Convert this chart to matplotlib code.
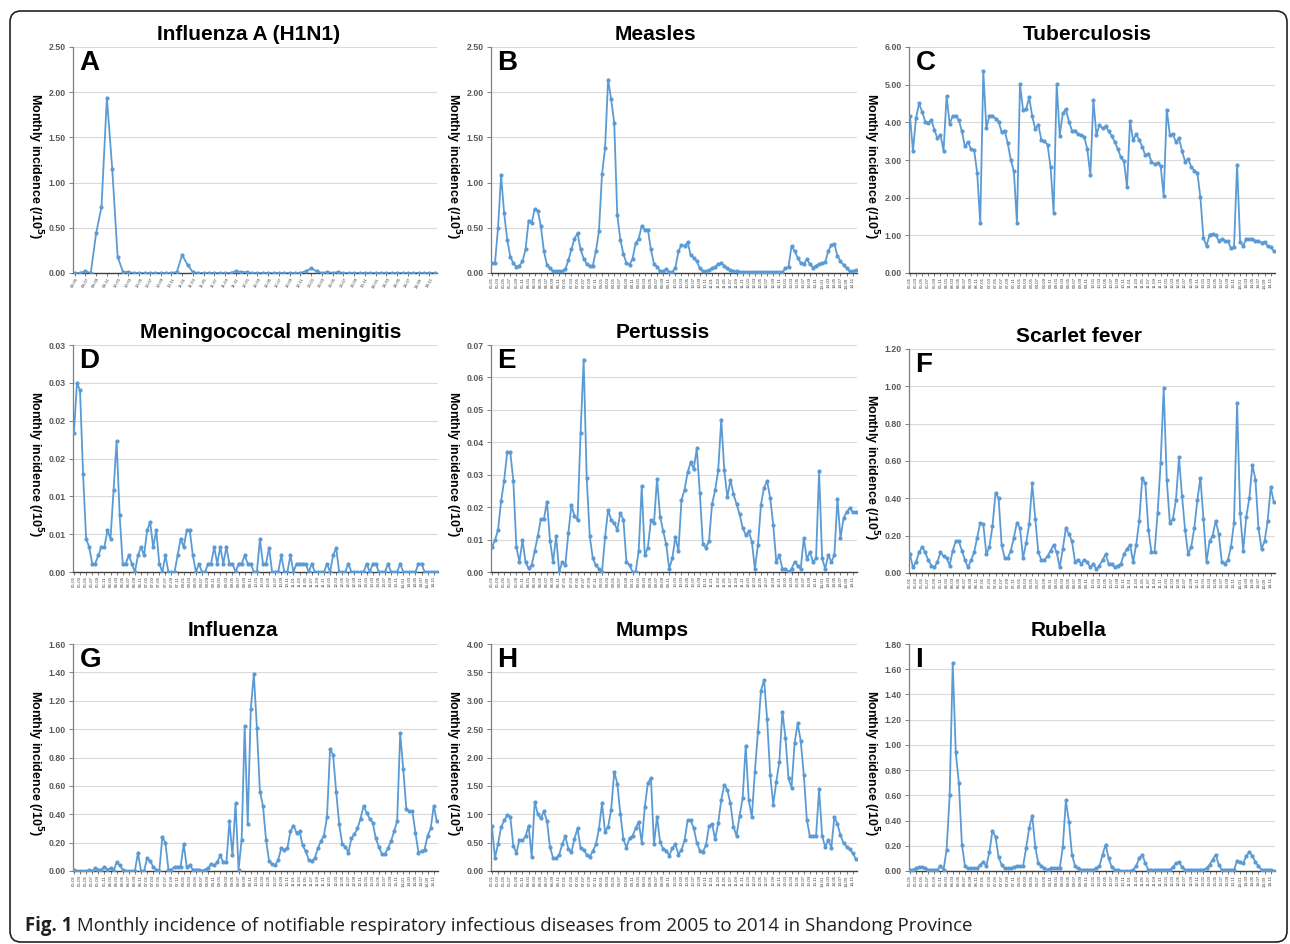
import matplotlib
matplotlib.use("Agg")
import matplotlib.pyplot as plt
from matplotlib.patches import FancyBboxPatch

# ---------------- data ----------------
months_h1n1 = [f"{y:02d}-{m:02d}" for y in range(9, 15) for m in range(1, 13)][4:]   # 09-05 .. 14-12
months_all = [f"{y:02d}-{m:02d}" for y in range(5, 15) for m in range(1, 13)]        # 05-01 .. 14-12

h1n1 = [0.00, 0.00, 0.02, 0.00, 0.44, 0.73, 1.94, 1.15, 0.18, 0.01, 0.01, 0.00,
        0.00, 0.00, 0.00, 0.00, 0.00, 0.00, 0.00, 0.01, 0.20, 0.09, 0.01, 0.00,
        0.00, 0.00, 0.00, 0.00, 0.00, 0.00, 0.02, 0.01, 0.01, 0.00, 0.00, 0.00,
        0.00, 0.00, 0.00, 0.00, 0.00, 0.00, 0.00, 0.02, 0.05, 0.02, 0.00, 0.01,
        0.00, 0.01, 0.00, 0.00, 0.00, 0.00, 0.00, 0.00, 0.00, 0.00, 0.00, 0.00,
        0.00, 0.00, 0.00, 0.00, 0.00, 0.00, 0.00, 0.00]

measles = [0.11, 0.11, 0.50, 1.08, 0.66, 0.37, 0.18, 0.11, 0.07, 0.08, 0.13, 0.26,
           0.58, 0.55, 0.71, 0.69, 0.52, 0.24, 0.09, 0.05, 0.02, 0.02, 0.02, 0.02,
           0.04, 0.14, 0.26, 0.38, 0.44, 0.26, 0.16, 0.10, 0.08, 0.08, 0.24, 0.46,
           1.09, 1.38, 2.14, 1.92, 1.66, 0.64, 0.37, 0.21, 0.11, 0.09, 0.16, 0.33,
           0.38, 0.52, 0.48, 0.48, 0.26, 0.10, 0.07, 0.02, 0.02, 0.04, 0.01, 0.01,
           0.06, 0.24, 0.31, 0.30, 0.34, 0.20, 0.17, 0.13, 0.05, 0.02, 0.02, 0.03,
           0.05, 0.07, 0.10, 0.11, 0.08, 0.05, 0.03, 0.02, 0.02, 0.01, 0.01, 0.01,
           0.01, 0.01, 0.01, 0.01, 0.01, 0.01, 0.01, 0.01, 0.01, 0.01, 0.01, 0.01,
           0.05, 0.07, 0.30, 0.24, 0.17, 0.11, 0.10, 0.15, 0.10, 0.06, 0.08, 0.10,
           0.11, 0.12, 0.24, 0.31, 0.32, 0.19, 0.13, 0.09, 0.05, 0.02, 0.02, 0.03]

tuberculosis = [4.18, 3.24, 4.12, 4.50, 4.28, 4.02, 3.99, 4.06, 3.80, 3.58, 3.66, 3.25,
                4.70, 3.96, 4.17, 4.16, 4.06, 3.76, 3.36, 3.48, 3.28, 3.26, 2.66, 1.32,
                5.35, 3.85, 4.18, 4.18, 4.10, 4.02, 3.74, 3.78, 3.44, 3.00, 2.70, 1.34,
                5.01, 4.33, 4.35, 4.66, 4.16, 3.82, 3.94, 3.52, 3.50, 3.41, 2.81, 1.60,
                5.02, 3.65, 4.24, 4.35, 4.02, 3.78, 3.78, 3.68, 3.66, 3.62, 3.29, 2.60,
                4.59, 3.66, 3.93, 3.84, 3.90, 3.76, 3.64, 3.48, 3.29, 3.07, 2.97, 2.28,
                4.04, 3.52, 3.68, 3.53, 3.35, 3.12, 3.17, 2.96, 2.89, 2.93, 2.84, 2.05,
                4.34, 3.67, 3.68, 3.48, 3.58, 3.24, 2.96, 3.03, 2.82, 2.72, 2.66, 2.01,
                0.92, 0.72, 1.02, 1.04, 1.00, 0.86, 0.90, 0.86, 0.84, 0.66, 0.69, 2.88,
                0.82, 0.72, 0.90, 0.90, 0.89, 0.86, 0.85, 0.80, 0.83, 0.71, 0.70, 0.58]

meningitis = [0.0184, 0.0250, 0.0240, 0.0130, 0.0044, 0.0033, 0.0011, 0.0011, 0.0022, 0.0033, 0.0033, 0.0055,
              0.0044, 0.0108, 0.0173, 0.0075, 0.0011, 0.0011, 0.0022, 0.0011, 0.0000, 0.0022, 0.0033, 0.0022,
              0.0055, 0.0066, 0.0033, 0.0055, 0.0011, 0.0000, 0.0022, 0.0000, 0.0000, 0.0000, 0.0022, 0.0044,
              0.0033, 0.0055, 0.0055, 0.0022, 0.0000, 0.0011, 0.0000, 0.0000, 0.0011, 0.0011, 0.0033, 0.0011,
              0.0033, 0.0011, 0.0033, 0.0011, 0.0011, 0.0000, 0.0011, 0.0011, 0.0022, 0.0011, 0.0011, 0.0000,
              0.0000, 0.0043, 0.0011, 0.0011, 0.0032, 0.0000, 0.0000, 0.0000, 0.0022, 0.0000, 0.0000, 0.0022,
              0.0000, 0.0011, 0.0011, 0.0011, 0.0011, 0.0000, 0.0011, 0.0000, 0.0000, 0.0000, 0.0000, 0.0011,
              0.0000, 0.0022, 0.0032, 0.0000, 0.0000, 0.0000, 0.0011, 0.0000, 0.0000, 0.0000, 0.0000, 0.0000,
              0.0011, 0.0000, 0.0011, 0.0011, 0.0000, 0.0000, 0.0000, 0.0011, 0.0000, 0.0000, 0.0000, 0.0011,
              0.0000, 0.0000, 0.0000, 0.0000, 0.0000, 0.0011, 0.0011, 0.0000, 0.0000, 0.0000, 0.0000, 0.0000]

pertussis = [0.0077, 0.0098, 0.0130, 0.0218, 0.0282, 0.0370, 0.0370, 0.0282, 0.0077, 0.0031, 0.0098, 0.0031,
             0.0011, 0.0021, 0.0065, 0.0110, 0.0163, 0.0163, 0.0217, 0.0097, 0.0031, 0.0110, 0.0000, 0.0031,
             0.0021, 0.0120, 0.0206, 0.0172, 0.0161, 0.0430, 0.0655, 0.0290, 0.0110, 0.0042, 0.0021, 0.0010,
             0.0000, 0.0107, 0.0192, 0.0161, 0.0150, 0.0130, 0.0182, 0.0161, 0.0031, 0.0021, 0.0000, 0.0000,
             0.0065, 0.0265, 0.0052, 0.0075, 0.0160, 0.0150, 0.0288, 0.0170, 0.0127, 0.0085, 0.0010, 0.0043,
             0.0107, 0.0065, 0.0222, 0.0254, 0.0307, 0.0338, 0.0318, 0.0381, 0.0243, 0.0085, 0.0075, 0.0095,
             0.0210, 0.0252, 0.0313, 0.0470, 0.0313, 0.0230, 0.0284, 0.0240, 0.0210, 0.0179, 0.0136, 0.0115,
             0.0125, 0.0094, 0.0010, 0.0083, 0.0208, 0.0260, 0.0280, 0.0229, 0.0146, 0.0031, 0.0052, 0.0010,
             0.0010, 0.0000, 0.0010, 0.0031, 0.0020, 0.0010, 0.0105, 0.0040, 0.0062, 0.0031, 0.0042, 0.0310,
             0.0042, 0.0010, 0.0052, 0.0031, 0.0052, 0.0226, 0.0104, 0.0166, 0.0185, 0.0197, 0.0185, 0.0185]

scarlet = [0.10, 0.03, 0.06, 0.11, 0.14, 0.11, 0.07, 0.04, 0.03, 0.06, 0.11, 0.09,
           0.08, 0.04, 0.12, 0.17, 0.17, 0.12, 0.07, 0.03, 0.07, 0.11, 0.19, 0.27,
           0.26, 0.10, 0.14, 0.25, 0.43, 0.40, 0.15, 0.08, 0.08, 0.12, 0.19, 0.27,
           0.24, 0.08, 0.16, 0.26, 0.48, 0.29, 0.11, 0.07, 0.07, 0.09, 0.12, 0.15,
           0.11, 0.03, 0.13, 0.24, 0.21, 0.17, 0.06, 0.07, 0.05, 0.07, 0.06, 0.03,
           0.05, 0.02, 0.04, 0.07, 0.10, 0.05, 0.05, 0.03, 0.04, 0.05, 0.10, 0.13,
           0.15, 0.06, 0.15, 0.28, 0.51, 0.48, 0.23, 0.11, 0.11, 0.32, 0.59, 0.99,
           0.50, 0.27, 0.29, 0.39, 0.62, 0.41, 0.23, 0.10, 0.14, 0.24, 0.39, 0.51,
           0.29, 0.06, 0.17, 0.20, 0.28, 0.21, 0.06, 0.05, 0.07, 0.14, 0.27, 0.91,
           0.32, 0.12, 0.30, 0.40, 0.58, 0.50, 0.24, 0.13, 0.17, 0.28, 0.46, 0.38]

influenza = [0.01, 0.00, 0.00, 0.00, 0.00, 0.005, 0.00, 0.02, 0.01, 0.01, 0.03, 0.01,
             0.02, 0.00, 0.06, 0.04, 0.01, 0.00, 0.00, 0.00, 0.00, 0.13, 0.00, 0.00,
             0.09, 0.07, 0.03, 0.01, 0.00, 0.24, 0.20, 0.01, 0.01, 0.03, 0.03, 0.03,
             0.19, 0.03, 0.04, 0.01, 0.01, 0.01, 0.00, 0.01, 0.02, 0.05, 0.04, 0.06,
             0.11, 0.06, 0.06, 0.35, 0.11, 0.48, 0.01, 0.22, 1.02, 0.33, 1.14, 1.39,
             1.01, 0.56, 0.46, 0.22, 0.07, 0.05, 0.04, 0.08, 0.16, 0.15, 0.16, 0.28,
             0.32, 0.27, 0.28, 0.18, 0.14, 0.08, 0.07, 0.09, 0.16, 0.21, 0.25, 0.38,
             0.86, 0.82, 0.56, 0.33, 0.19, 0.17, 0.13, 0.23, 0.26, 0.30, 0.37, 0.46,
             0.41, 0.37, 0.34, 0.23, 0.17, 0.12, 0.12, 0.16, 0.21, 0.28, 0.35, 0.97,
             0.72, 0.44, 0.42, 0.42, 0.27, 0.13, 0.14, 0.15, 0.25, 0.30, 0.46, 0.35]

mumps = [0.79, 0.23, 0.48, 0.77, 0.89, 0.98, 0.96, 0.44, 0.32, 0.55, 0.54, 0.61,
         0.80, 0.25, 1.22, 1.00, 0.93, 1.05, 0.88, 0.42, 0.23, 0.23, 0.29, 0.47,
         0.61, 0.39, 0.33, 0.57, 0.75, 0.40, 0.37, 0.29, 0.25, 0.35, 0.47, 0.74,
         1.19, 0.69, 0.78, 1.08, 1.75, 1.54, 1.01, 0.56, 0.41, 0.58, 0.62, 0.75,
         0.87, 0.50, 1.13, 1.55, 1.64, 0.47, 0.96, 0.51, 0.39, 0.36, 0.27, 0.40,
         0.47, 0.29, 0.37, 0.54, 0.89, 0.89, 0.76, 0.50, 0.36, 0.34, 0.45, 0.79,
         0.83, 0.56, 0.84, 1.25, 1.52, 1.43, 1.19, 0.78, 0.62, 0.97, 1.28, 2.21,
         1.25, 0.95, 1.75, 2.45, 3.18, 3.37, 2.68, 1.70, 1.17, 1.57, 1.92, 2.81,
         2.35, 1.63, 1.47, 2.26, 2.60, 2.29, 1.70, 0.90, 0.61, 0.62, 0.61, 1.44,
         0.62, 0.42, 0.55, 0.41, 0.95, 0.83, 0.63, 0.49, 0.43, 0.38, 0.32, 0.21]

rubella = [0.01, 0.01, 0.02, 0.03, 0.03, 0.02, 0.01, 0.01, 0.01, 0.01, 0.04, 0.01,
           0.17, 0.60, 1.65, 0.94, 0.70, 0.21, 0.04, 0.02, 0.02, 0.02, 0.02, 0.05,
           0.07, 0.04, 0.15, 0.32, 0.27, 0.11, 0.05, 0.02, 0.02, 0.02, 0.03, 0.04,
           0.04, 0.04, 0.18, 0.34, 0.44, 0.19, 0.06, 0.04, 0.02, 0.01, 0.02, 0.02,
           0.02, 0.02, 0.19, 0.56, 0.39, 0.13, 0.04, 0.02, 0.01, 0.01, 0.01, 0.01,
           0.01, 0.02, 0.04, 0.13, 0.21, 0.10, 0.03, 0.01, 0.01, 0.00, 0.00, 0.00,
           0.00, 0.01, 0.04, 0.10, 0.13, 0.06, 0.01, 0.01, 0.01, 0.01, 0.01, 0.01,
           0.01, 0.01, 0.03, 0.06, 0.07, 0.03, 0.01, 0.01, 0.01, 0.01, 0.01, 0.01,
           0.01, 0.02, 0.05, 0.09, 0.13, 0.05, 0.01, 0.01, 0.01, 0.01, 0.01, 0.08,
           0.07, 0.06, 0.12, 0.15, 0.12, 0.07, 0.04, 0.01, 0.01, 0.01, 0.01, 0.00]

titles = ["Influenza A (H1N1)", "Measles", "Tuberculosis",
          "Meningococcal meningitis", "Pertussis", "Scarlet fever",
          "Influenza", "Mumps", "Rubella"]
letters = ["A", "B", "C", "D", "E", "F", "G", "H", "I"]
series = [h1n1, measles, tuberculosis, meningitis, pertussis, scarlet, influenza, mumps, rubella]
categories = [months_h1n1] + [months_all] * 8

yticks = [[0, 0.5, 1.0, 1.5, 2.0, 2.5],
          [0, 0.5, 1.0, 1.5, 2.0, 2.5],
          [0, 1, 2, 3, 4, 5, 6],
          [0, 0.005, 0.010, 0.015, 0.020, 0.025, 0.030],
          [0, 0.01, 0.02, 0.03, 0.04, 0.05, 0.06, 0.07],
          [0, 0.2, 0.4, 0.6, 0.8, 1.0, 1.2],
          [0, 0.2, 0.4, 0.6, 0.8, 1.0, 1.2, 1.4, 1.6],
          [0, 0.5, 1.0, 1.5, 2.0, 2.5, 3.0, 3.5, 4.0],
          [0, 0.2, 0.4, 0.6, 0.8, 1.0, 1.2, 1.4, 1.6, 1.8]]
meningitis_ticklabels = ["0.00", "0.01", "0.01", "0.02", "0.02", "0.03", "0.03"]

caption_bold = "Fig. 1"
caption_text = " Monthly incidence of notifiable respiratory infectious diseases from 2005 to 2014 in Shandong Province"

# ---------------- layout (pixels) ----------------
W, H = 1290, 944
boxes = [(73, 47, 437, 273), (491, 47, 857, 273), (909, 47, 1275, 273),
         (73, 345, 438, 572), (491, 345, 857, 572), (909, 349, 1275, 573),
         (73, 644, 438, 871), (491, 644, 857, 871), (909, 644, 1275, 871)]
title_pos = [(249, 35), (655, 35), (1087, 35),
             (271, 333), (663, 333), (1079, 337),
             (233, 631), (652, 631), (1069, 630)]

LINE = "#5B9BD5"
TXT = "#595959"
FONT = "Liberation Sans"

fig = plt.figure(figsize=(W / 100, H / 100), dpi=100)
bg = fig.add_axes([0, 0, 1, 1])
bg.set_xlim(0, W)
bg.set_ylim(H, 0)
bg.axis("off")
frame = FancyBboxPatch((10, 11), 1277, 931, boxstyle="round,pad=0,rounding_size=11",
                       fc="none", ec="#222222", lw=1.2)
bg.add_patch(frame)

for i in range(9):
    l, t, r, b = boxes[i]
    ax = fig.add_axes([l / W, 1 - b / H, (r - l) / W, (b - t) / H])
    y = series[i]
    cats = categories[i]
    x = list(range(len(y)))
    ax.plot(x, y, color=LINE, lw=1.3, marker="o", ms=2.0, mec=LINE, mfc=LINE, zorder=3)
    ax.set_xlim(-0.3, len(y) - 0.6)
    yt = yticks[i]
    ax.set_ylim(0, yt[-1])
    ax.set_yticks(yt)
    if i == 3:
        ax.set_yticklabels(meningitis_ticklabels)
    else:
        ax.set_yticklabels([f"{v:.2f}" for v in yt])
    ax.set_xticks(x[::2])
    ax.set_xticklabels(cats[::2], rotation=60 if i == 0 else 90,
                       fontsize=3.2, color="#404040", family=FONT)
    for lab in ax.get_yticklabels():
        lab.set_fontsize(6.3)
        lab.set_color(TXT)
        lab.set_fontweight("bold")
        lab.set_family(FONT)
    ax.grid(axis="y", color="#DADADA", lw=0.8)
    ax.set_axisbelow(True)
    for s in ["top", "right"]:
        ax.spines[s].set_visible(False)
    ax.spines["left"].set_color("#7F7F7F")
    ax.spines["left"].set_linewidth(0.9)
    ax.spines["bottom"].set_color("#404040")
    ax.spines["bottom"].set_linewidth(1.0)
    ax.tick_params(axis="y", length=3, width=0.7, color="#7F7F7F", pad=2)
    ax.tick_params(axis="x", length=2, width=0.5, color="#404040", pad=1)
    # panel letter
    ax.text(0.018, 0.985, letters[i], transform=ax.transAxes, ha="left", va="top",
            fontsize=20, fontweight="bold", family=FONT, color="black")
    # y label
    bg.text(l - 38, (t + b) / 2 + 6, "Monthly incidence (/10$^\\mathbf{5}$)", rotation=270,
            ha="center", va="center", fontsize=9.0, fontweight="bold", family=FONT)
    # title
    tx, ty = title_pos[i]
    bg.text(tx, ty, titles[i], ha="center", va="center", fontsize=15,
            fontweight="bold", family=FONT)

t1 = bg.text(25, 926, caption_bold, ha="left", va="center", fontsize=13.4,
             fontweight="bold", family="Open Sans", color="#231F20")
bg.annotate(caption_text, xy=(1, 0.5), xycoords=t1, ha="left", va="center",
            fontsize=13.4, family="Open Sans", color="#231F20")

fig.savefig("out.png", dpi=100)
